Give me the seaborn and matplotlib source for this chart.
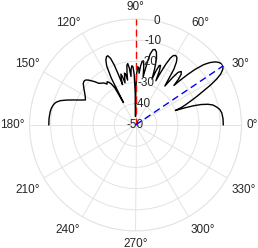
import numpy as np
import pandas as pd
import matplotlib
matplotlib.use("Agg")
import matplotlib.pyplot as plt
import seaborn as sns

# ---- data (angle in degrees, gain in dB) ----
angle_deg = [0, 4, 8, 10.5, 12.5, 14.5, 16, 17.3, 18.3, 19.2, 20, 20.8, 22, 23.5, 25,
             26.5, 28, 29.5, 31, 32.5, 34, 35.5, 37, 38.5, 40, 41.5, 43, 44, 45, 45.8,
             46.8, 48, 49.5, 51, 52, 53, 54, 55.5, 57, 58.5, 60, 61.5, 62.5, 63.5, 64.5,
             65.3, 66.2, 67.2, 68.2, 69.2, 70.2, 71.2, 72.5, 74, 75.5, 77, 78.3, 79.3,
             80.3, 81, 82, 83, 84, 85, 86, 86.8, 87.8, 88.8, 89.6, 90, 90.5, 91.5, 92.5,
             93.5, 94.5, 95.3, 96.2, 97.2, 98.2, 99.2, 100, 101, 102, 103, 104, 105, 106,
             107, 107.8, 108.7, 109.5, 110.5, 111.8, 113, 114.5, 116, 117.3, 118.2, 119,
             120.5, 122, 123.3, 124.8, 126.2, 127.5, 129, 131.4, 133, 134.5, 136.5, 138,
             139.5, 141.5, 144, 147, 150, 153.4, 155.5, 157.9, 160, 162, 163.8, 165.1,
             167, 169, 171, 173.4, 176, 180]
gain_db = [-8.6, -8.6, -8.9, -9.6, -10.8, -12.3, -14.5, -17.5, -21, -25.5, -30, -27, -24.5,
           -21.5, -18, -14.5, -10, -6, -3, -1.2, -0.2, -0.2, -0.9, -2.2, -4.2, -7, -11.5,
           -15.5, -20, -24, -20.5, -17.8, -16.8, -18, -21.5, -27, -24, -18, -14.5, -12.6,
           -12.1, -12.8, -14.5, -18, -23, -27, -22, -19.5, -19.8, -22.5, -27, -22, -17,
           -14.2, -13.2, -13.6, -15.8, -19.5, -24.5, -27, -22, -19.5, -19.8, -21.8, -25.5,
           -23, -22.5, -26, -35, -46, -35, -26, -22.5, -22, -23.5, -27, -23, -20.8, -21.5,
           -25, -28.5, -25.5, -25, -27.5, -29.5, -26.5, -25, -27, -30, -25, -20, -16.5,
           -14.8, -15, -16.3, -19, -25, -38, -30, -27.5, -26.2, -25.6, -26.5, -25.6, -25,
           -24.6, -23.8, -22.2, -20.9, -19.2, -18.3, -18.1, -18.5, -19.8, -21.3, -22.6,
           -23.6, -21.6, -18.6, -15.6, -12.8, -11.2, -10.5, -9.9, -9.5, -9.3, -9.2, -9.1,
           -9.1]
broadside_deg = 90
steer_deg = 34
r_ticks = [-50, -40, -30, -20, -10, 0]
r_labels = ["-50", "-40", "-30", "-20", "-10", "0"]
theta_ticks = [0, 30, 60, 90, 120, 150, 180, 210, 240, 270, 300, 330]
theta_labels = [f"{t}°" for t in theta_ticks]

sns.set_theme(style="white")
plt.rcParams['font.family'] = ['Liberation Sans', 'DejaVu Sans']

text_color = "#262626"
grid_color = "#e3e3e3"
fs = 8.5

fig = plt.figure(figsize=(2.58, 2.48), dpi=100)
ax = fig.add_axes([29.5 / 258, 17 / 248, 212 / 258, 212 / 248], projection="polar")

df = pd.DataFrame({"theta": np.deg2rad(angle_deg), "gain": gain_db})
sns.lineplot(data=df, x="theta", y="gain", ax=ax, sort=False, estimator=None,
             color="black", linewidth=1.0, zorder=3)

for ang, col in [(broadside_deg, "red"), (steer_deg, "blue")]:
    ax.plot([np.deg2rad(ang)] * 2, [r_ticks[0], r_ticks[-1]], color=col,
            linewidth=1.0, linestyle=(0, (5, 3)), zorder=4)

ax.set_ylim(r_ticks[0], r_ticks[-1])
ax.set_yticks(r_ticks)
ax.set_yticklabels([])
ax.set_xticks(np.deg2rad(theta_ticks))
ax.set_xticklabels([])
ax.set_xlabel("")
ax.set_ylabel("")
ax.grid(True, color=grid_color, linewidth=0.7)
ax.spines["polar"].set_color(grid_color)
ax.spines["polar"].set_linewidth(0.7)
ax.tick_params(length=0, pad=0)

gap = 3.5
for t, lab in zip(theta_ticks, theta_labels):
    c, s = np.cos(np.deg2rad(t)), np.sin(np.deg2rad(t))
    ha = "left" if c > 0.1 else ("right" if c < -0.1 else "center")
    va = "bottom" if s > 0.1 else ("top" if s < -0.1 else "center")
    dy = gap * s
    if s < -0.9:
        dy -= 1.2
    elif s < -0.1:
        dy -= 2.5
    elif s > 0.9:
        dy += 1.0
    ax.annotate(lab, xy=(np.deg2rad(t), r_ticks[-1]), xytext=(gap * c, dy),
                textcoords="offset points", ha=ha, va=va, fontsize=fs,
                color=text_color, annotation_clip=False)

for r, lab in zip(r_ticks, r_labels):
    off = 0 if r == r_ticks[0] else 2
    ax.annotate(lab, xy=(np.deg2rad(80), r), xytext=(off, 0),
                textcoords="offset points", ha="center", va="center",
                fontsize=fs, color=text_color, annotation_clip=False, zorder=5)

fig.savefig("out.png", dpi=100)
